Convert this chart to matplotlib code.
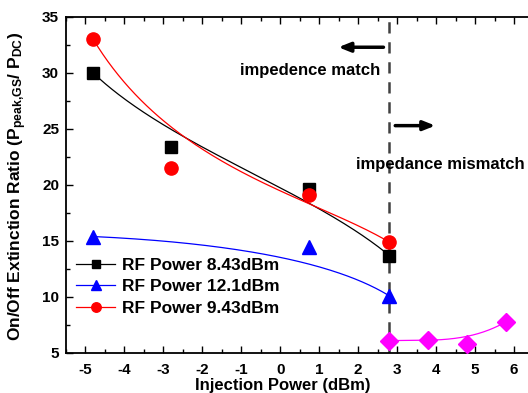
import numpy as np
import matplotlib
matplotlib.use("Agg")
import matplotlib.pyplot as plt
from math import comb

plt.rcParams['font.family'] = ['Liberation Sans', 'DejaVu Sans']
plt.rcParams['font.weight'] = 'bold'
plt.rcParams['axes.unicode_minus'] = False
plt.rcParams['mathtext.fontset'] = 'custom'
plt.rcParams['mathtext.rm'] = 'Liberation Sans:bold'
plt.rcParams['mathtext.bf'] = 'Liberation Sans:bold'
plt.rcParams['mathtext.it'] = 'Liberation Sans:bold'

# Data
x_8p43 = [-4.8, -2.8, 0.75, 2.8]
y_8p43 = [30.0, 23.4, 19.6, 13.7]
x_12p1 = [-4.8, 0.75, 2.8]
y_12p1 = [15.4, 14.5, 10.1]
x_9p43 = [-4.8, -2.8, 0.75, 2.8]
y_9p43 = [33.0, 21.5, 19.1, 14.9]
x_mis = [2.8, 3.8, 4.8, 5.8]
y_mis = [6.1, 6.2, 5.8, 7.8]
labels = ['RF Power 8.43dBm', 'RF Power 12.1dBm', 'RF Power 9.43dBm']
boundary_x = 2.8


def bspline(xs, ys, n=200):
    """Bezier/B-spline curve using data points as control points."""
    xs = np.asarray(xs, float)
    ys = np.asarray(ys, float)
    k = len(xs) - 1
    t = np.linspace(0, 1, n)
    bx = np.zeros_like(t)
    by = np.zeros_like(t)
    for i in range(k + 1):
        b = comb(k, i) * t**i * (1 - t)**(k - i)
        bx += b * xs[i]
        by += b * ys[i]
    return bx, by


fig = plt.figure(figsize=(5.28, 3.93), dpi=100)
ax = fig.add_axes([66/528, 1 - 353/393, (533.5 - 66)/528, (353 - 17)/393])

series = [
    (x_8p43, y_8p43, 'black', 's', 8, labels[0]),
    (x_12p1, y_12p1, 'blue', '^', 10, labels[1]),
    (x_9p43, y_9p43, 'red', 'o', 9.5, labels[2]),
]
for xs, ys, c, m, ms, lab in series:
    cx, cy = bspline(xs, ys)
    ax.plot(cx, cy, color=c, lw=0.9, zorder=2)
    ax.plot(xs, ys, linestyle='none', marker=m, color=c, ms=ms, zorder=3)
    ax.plot([], [], color=c, lw=0.9, marker=m, ms=ms*0.72, label=lab)

cx, cy = bspline(x_mis, y_mis)
ax.plot(cx, cy, color='#ff00ff', lw=0.9, zorder=2)
ax.plot(x_mis, y_mis, linestyle='none', marker='D', color='#ff00ff', ms=9, zorder=3)

ax.axvline(boundary_x, color='#404040', lw=1.8, dashes=(4.5, 3.5), zorder=1)

ax.annotate('', xy=(1.42, 32.3), xytext=(2.72, 32.3),
            arrowprops=dict(arrowstyle='-|>,head_length=0.7,head_width=0.28',
                            color='black', lw=2.5))
ax.annotate('', xy=(4.05, 25.3), xytext=(2.88, 25.3),
            arrowprops=dict(arrowstyle='-|>,head_length=0.7,head_width=0.28',
                            color='black', lw=2.5))
ax.text(0.76, 30.2, 'impedence match', ha='center', va='center',
        fontsize=12, fontweight='bold')
ax.text(4.1, 21.8, 'impedance mismatch', ha='center', va='center',
        fontsize=12, fontweight='bold')

ax.set_xlim(-5.5, 6.5)
ax.set_ylim(5, 35)
ax.set_xticks(np.arange(-5, 7, 1))
ax.set_xticks(np.arange(-5.5, 6.6, 0.5), minor=True)
ax.set_yticks(np.arange(5, 36, 5))
ax.set_yticks(np.arange(5, 35.1, 2.5), minor=True)
ax.tick_params(which='both', direction='in', top=True, right=False,
               labelsize=11, width=1)
ax.tick_params(axis='x', which='major', pad=7)
ax.tick_params(axis='y', which='major', pad=5)
ax.tick_params(which='major', length=5)
ax.tick_params(which='minor', length=3)
for lab in ax.get_xticklabels() + ax.get_yticklabels():
    lab.set_fontweight('bold')
for s in ax.spines.values():
    s.set_linewidth(1.3)

ax.set_xlabel('Injection Power (dBm)', fontsize=12, fontweight='bold')
ax.xaxis.set_label_coords((283 - 66) / 467.5, (353 - 378) / 336)
ax.set_ylabel(r'On/Off Extinction Ratio (P$_{\mathbf{peak{,}GS}}$/ P$_{\mathbf{DC}}$)',
              fontsize=12.5, fontweight='bold')
ax.yaxis.set_label_coords((29 - 66) / 467.5, (353 - 186) / 336)

leg = ax.legend(loc='upper left', bbox_to_anchor=(0.0, 0.315), frameon=False,
                fontsize=12.5, handlelength=2.2, handletextpad=0.4,
                labelspacing=0.38, borderaxespad=0.2)
for t in leg.get_texts():
    t.set_fontweight('bold')

fig.savefig('out.png', dpi=100)
